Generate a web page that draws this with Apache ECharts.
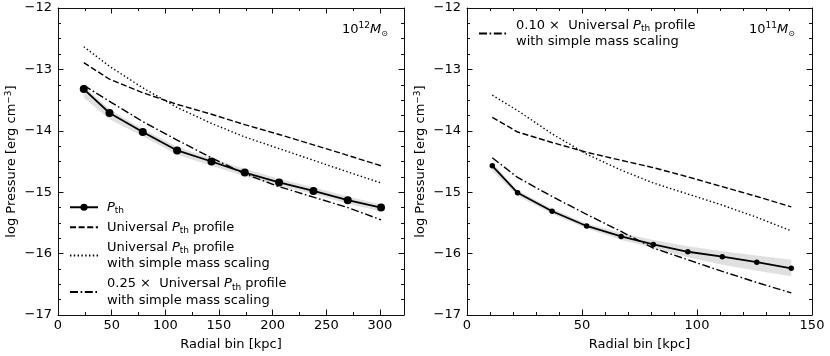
<!DOCTYPE html>
<html>
<head>
<meta charset="utf-8">
<script src="https://cdn.jsdelivr.net/npm/echarts@6/dist/echarts.min.js"></script>
<style>
  html, body { margin: 0; padding: 0; background: #fff; }
  #chart { width: 830px; height: 356px; }
</style>
</head>
<body>
<div id="chart"></div>
<script>
// left panel (10^12 Msun)
var rLeft = [24, 48, 79, 111, 143, 174, 206, 238, 270, 301];
var pthLeft = [-13.32, -13.71, -14.02, -14.32, -14.50, -14.68, -14.84, -14.98, -15.13, -15.25];
var pthLeftLo = [-13.46, -13.81, -14.09, -14.39, -14.57, -14.74, -14.90, -15.03, -15.19, -15.31];
var pthLeftHi = [-13.27, -13.65, -13.97, -14.26, -14.45, -14.62, -14.78, -14.92, -15.07, -15.20];
var univLeft = [-12.89, -13.16, -13.38, -13.57, -13.73, -13.90, -14.06, -14.23, -14.40, -14.57];
var scaledLeft = [-12.63, -12.95, -13.30, -13.62, -13.88, -14.10, -14.29, -14.48, -14.67, -14.85];
var quarterLeft = [-13.26, -13.52, -13.85, -14.15, -14.44, -14.70, -14.91, -15.08, -15.25, -15.45];

// right panel (10^11 Msun)
var rRight = [11, 22, 37, 52, 67, 81, 96, 111, 126, 141];
var pthRight = [-14.57, -15.01, -15.31, -15.55, -15.72, -15.85, -15.97, -16.05, -16.14, -16.24];
var pthRightLo = [-14.65, -15.06, -15.35, -15.59, -15.78, -15.91, -16.06, -16.18, -16.28, -16.37];
var pthRightHi = [-14.52, -14.97, -15.27, -15.51, -15.66, -15.78, -15.88, -15.96, -16.03, -16.10];
var univRight = [-13.78, -14.02, -14.19, -14.35, -14.48, -14.60, -14.75, -14.91, -15.07, -15.24];
var scaledRight = [-13.42, -13.67, -14.05, -14.38, -14.64, -14.85, -15.03, -15.21, -15.41, -15.63];
var tenthRight = [-14.44, -14.76, -15.07, -15.36, -15.64, -15.91, -16.10, -16.29, -16.47, -16.64];

// tick labels
var xTicksLeft = [0, 50, 100, 150, 200, 250, 300];
var xTicksRight = [0, 50, 100, 150];
var yTicks = [-17, -16, -15, -14, -13, -12];

var FONT = 'DejaVu Sans';
var FS = 13;
var INK = '#111';

var legendLabels = {
    pthL: '{i|P}{s|th}',
    univL: 'Universal {i|P}{s|th} profile',
    scaledL: 'Universal {i|P}{s|th} profile\nwith simple mass scaling',
    quarterL: '0.25 \u00d7  Universal {i|P}{s|th} profile\nwith simple mass scaling',
    tenthR: '0.10 \u00d7  Universal {i|P}{s|th} profile\nwith simple mass scaling'
};

var richText = {
    i: { fontFamily: FONT, fontSize: FS, fontStyle: 'italic', lineHeight: 16.5, color: '#000' },
    s: { fontFamily: FONT, fontSize: 9, lineHeight: 9, verticalAlign: 'bottom', color: '#000' },
    o: { fontFamily: FONT, fontSize: 8, lineHeight: 8, verticalAlign: 'bottom', color: '#000' },
    sup: { fontFamily: FONT, fontSize: 9, lineHeight: 9, verticalAlign: 'top', color: '#000' }
};

function zip(xs, ys) {
    return xs.map(function (x, i) { return [x, ys[i]]; });
}
function fmtY(v) {
    return v < 0 ? '\u2212' + (-v) : String(v);
}

var tickStyle = { color: INK, width: 1 };

// frame axes with inward ticks on all four sides
function xAxesFor(grid, max, ticks, minorSplit) {
    var major = function (pos, labels) {
        return {
            type: 'value', gridIndex: grid, position: pos, min: 0, max: max, interval: 50,
            axisLine: { show: true, onZero: false, lineStyle: { color: INK, width: 1 } },
            axisTick: { show: true, inside: true, length: 5.5, lineStyle: tickStyle, customValues: ticks },
            minorTick: { show: true, splitNumber: minorSplit, length: 3, lineStyle: tickStyle },
            axisLabel: {
                show: labels, margin: 4, color: '#000', fontFamily: FONT, fontSize: FS,
                customValues: ticks
            },
            splitLine: { show: false },
            name: labels ? 'Radial bin [kpc]' : '',
            nameLocation: 'middle', nameGap: 23,
            nameTextStyle: { color: '#000', fontFamily: FONT, fontSize: FS }
        };
    };
    return [major('bottom', true), major('top', false)];
}

function yAxesFor(grid) {
    var major = function (pos, labels) {
        return {
            type: 'value', gridIndex: grid, position: pos, min: -17, max: -12, interval: 1,
            axisLine: { show: true, onZero: false, lineStyle: { color: INK, width: 1 } },
            axisTick: { show: true, inside: true, length: 5.5, lineStyle: tickStyle },
            minorTick: { show: true, splitNumber: 4, length: 3, lineStyle: tickStyle },
            axisLabel: {
                show: labels, margin: 6, color: '#000', fontFamily: FONT, fontSize: FS,
                formatter: fmtY, customValues: yTicks
            },
            splitLine: { show: false },
            name: labels ? 'log Pressure [erg cm{sup|\u22123}]' : '',
            nameLocation: 'middle', nameGap: 38, nameRotate: 90,
            nameTextStyle: { color: '#000', fontFamily: FONT, fontSize: FS, lineHeight: 16, rich: richText }
        };
    };
    return [major('left', true), major('right', false)];
}

// shaded scatter band, drawn as one polygon through the axis scales
function bandSeries(xi, yi, xs, lo, hi) {
    var rows = xs.map(function (x, i) { return [x, lo[i], hi[i]]; });
    return {
        type: 'custom', xAxisIndex: xi, yAxisIndex: yi, data: rows, silent: true, z: 1,
        encode: { x: 0, y: [1, 2] },
        renderItem: function (params, api) {
            if (params.dataIndex !== 0) return;
            var pts = [];
            rows.forEach(function (r) { pts.push(api.coord([r[0], r[2]])); });
            rows.slice().reverse().forEach(function (r) { pts.push(api.coord([r[0], r[1]])); });
            return { type: 'polygon', shape: { points: pts }, style: { fill: '#e0e0e0', stroke: null } };
        }
    };
}

function curve(name, xi, yi, xs, ys, dash) {
    return {
        name: name, type: 'line', xAxisIndex: xi, yAxisIndex: yi, data: zip(xs, ys),
        symbol: 'none', lineStyle: { color: '#000', width: 1.4, type: dash }, z: 3
    };
}

function pthSeries(name, xi, yi, xs, ys, size) {
    return {
        name: name, type: 'line', xAxisIndex: xi, yAxisIndex: yi, data: zip(xs, ys),
        symbol: 'circle', symbolSize: size, showSymbol: true,
        itemStyle: { color: '#000' }, lineStyle: { color: '#000', width: 1.8 }, z: 4
    };
}

var dashed = [6, 2.6];
var dotted = [1.4, 2.4];
var dashDot = [8, 2.6, 1.6, 2.6];

var chart = echarts.init(document.getElementById('chart'));

var legendBase = {
    orient: 'vertical', padding: 0, itemWidth: 28, itemHeight: 9,
    textStyle: { color: '#000', fontFamily: FONT, fontSize: FS, lineHeight: 16.5, padding: [0, 0, 0, 4], rich: richText },
    formatter: function (n) { return legendLabels[n]; },
    selectedMode: false
};

// x axes: 0 left-bottom, 1 left-top, 2 right-bottom, 3 right-top
var option = {
    animation: false,
    backgroundColor: '#fff',
    textStyle: { fontFamily: FONT },
    grid: [
        { left: 58, top: 8, width: 346, height: 310 },
        { left: 467, top: 8, width: 345, height: 310 }
    ],
    xAxis: xAxesFor(0, 322.4, xTicksLeft, 2).concat(xAxesFor(1, 150, xTicksRight, 5)),
    yAxis: yAxesFor(0).concat(yAxesFor(1)),
    legend: [
        Object.assign({}, legendBase, {
            left: 69, top: 199, itemGap: 3.5,
            data: [
                { name: 'pthL' },
                { name: 'univL', itemStyle: { opacity: 0 } },
                { name: 'scaledL', itemStyle: { opacity: 0 } },
                { name: 'quarterL', itemStyle: { opacity: 0 } }
            ]
        }),
        Object.assign({}, legendBase, {
            left: 478, top: 17,
            data: [{ name: 'tenthR', itemStyle: { opacity: 0 } }]
        })
    ],
    graphic: [
        {
            type: 'text', left: 342, top: 21,
            style: { text: '10{sup|12}{i|M}{o|\u2299}', fill: '#000', fontFamily: FONT, fontSize: FS, lineHeight: 16.5, rich: richText }
        },
        {
            type: 'text', left: 749, top: 21,
            style: { text: '10{sup|11}{i|M}{o|\u2299}', fill: '#000', fontFamily: FONT, fontSize: FS, lineHeight: 16.5, rich: richText }
        }
    ],
    series: [
        bandSeries(0, 0, rLeft, pthLeftLo, pthLeftHi),
        curve('univL', 0, 0, rLeft, univLeft, dashed),
        curve('scaledL', 0, 0, rLeft, scaledLeft, dotted),
        curve('quarterL', 0, 0, rLeft, quarterLeft, dashDot),
        pthSeries('pthL', 0, 0, rLeft, pthLeft, 8),
        bandSeries(2, 2, rRight, pthRightLo, pthRightHi),
        curve('univR', 2, 2, rRight, univRight, dashed),
        curve('scaledR', 2, 2, rRight, scaledRight, dotted),
        curve('tenthR', 2, 2, rRight, tenthRight, dashDot),
        pthSeries('pthR', 2, 2, rRight, pthRight, 5.5)
    ]
};

chart.setOption(option);
</script>
</body>
</html>
